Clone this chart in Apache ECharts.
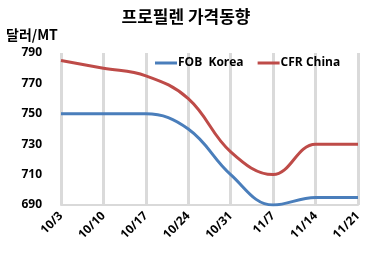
<!DOCTYPE html>
<html><head><meta charset="utf-8">
<script src="https://cdn.jsdelivr.net/npm/echarts@6/dist/echarts.min.js"></script>
<style>html,body{margin:0;padding:0;background:#fff}#c{width:369px;height:258px}</style>
</head><body><div id="c"></div>
<script>
const categories = ['10/3','10/10','10/17','10/24','10/31','11/7','11/14','11/21'];
const fobKorea = [750, 750, 750, 740, 710, 690, 695, 695];
const cfrChina = [785, 780, 775, 760, 725, 710, 730, 730];
const titleText = '프로필렌 가격동향';
const unitText = '달러/MT';
const font = '"Open Sans", "Noto Sans CJK KR", sans-serif';
const chart = echarts.init(document.getElementById('c'));
chart.setOption({
  animation: false,
  textStyle: { fontFamily: font },
  title: [
    { text: titleText, left: 181, top: 3, textAlign: 'center',
      textStyle: { fontFamily: '"Noto Sans CJK KR", sans-serif', fontSize: 17, fontWeight: 'bold', color: '#000' } },
    { text: unitText, left: 1, top: 23,
      textStyle: { fontFamily: '"Noto Sans CJK KR", sans-serif', fontSize: 14, fontWeight: 'bold', color: '#000' } }
  ],
  legend: {
    top: 52, left: 150, itemWidth: 22, itemHeight: 3, itemGap: 14,
    icon: 'rect',
    textStyle: { fontSize: 12, fontWeight: 'bold', color: '#000', padding: [0,0,0,-4] },
    data: ['FOB  Korea', 'CFR China']
  },
  grid: { left: 61, right: 11, top: 53, bottom: 53 },
  xAxis: {
    type: 'category', data: categories, boundaryGap: false,
    axisLine: { lineStyle: { color: '#d9d9d9', width: 2 } },
    axisTick: { show: false },
    axisLabel: { rotate: 45, fontSize: 12, fontWeight: 'bold', color: '#000', margin: 9 },
    splitLine: { show: true, lineStyle: { color: '#dadada', width: 3 } }
  },
  yAxis: {
    type: 'value', min: 690, max: 790, interval: 20,
    axisLine: { show: false }, axisTick: { show: false },
    splitLine: { show: false },
    axisLabel: { fontSize: 12, fontWeight: 'bold', color: '#000', margin: 19 }
  },
  series: [
    { name: 'FOB  Korea', type: 'line', data: fobKorea, smooth: 0.4, showSymbol: false,
      lineStyle: { color: '#4a7ebb', width: 3 }, itemStyle: { color: '#4a7ebb' } },
    { name: 'CFR China', type: 'line', data: cfrChina, smooth: 0.4, showSymbol: false,
      lineStyle: { color: '#be4b48', width: 3 }, itemStyle: { color: '#be4b48' } }
  ]
});
</script></body></html>
